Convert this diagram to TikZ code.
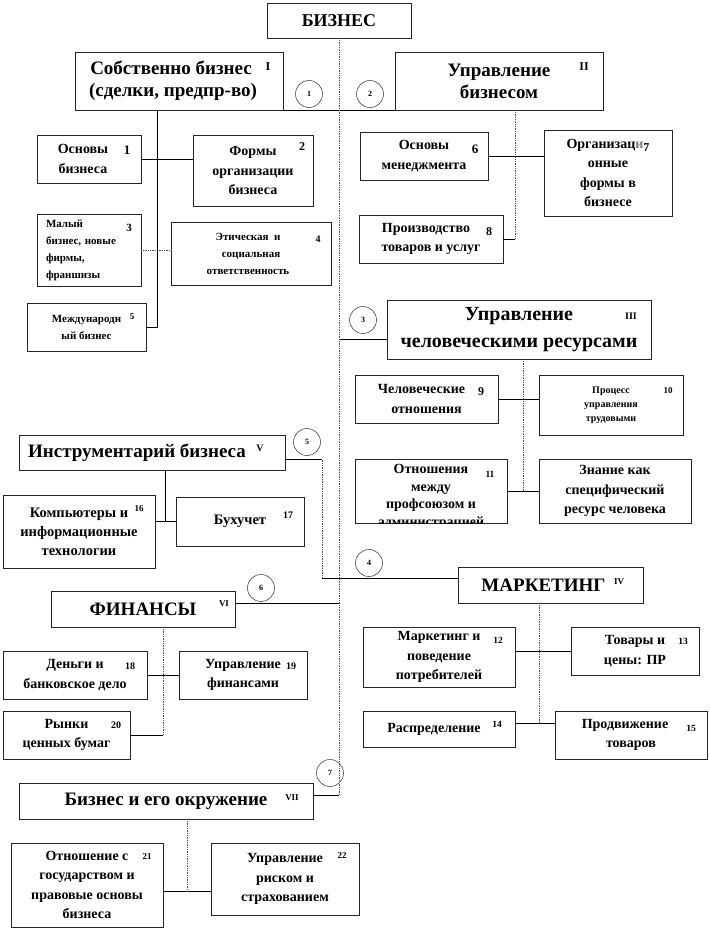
\documentclass[tikz,border=0pt]{standalone}
\usepackage{fontspec}
\setmainfont{Liberation Serif}
\usetikzlibrary{calc}

\begin{document}
\begin{tikzpicture}[x=1pt, y=-1pt,
  box/.style={draw=black!85, line width=0.75pt, rectangle, inner sep=2pt, outer sep=0pt, align=center},
  big/.style={box, font=\fontsize{19}{22}\selectfont\bfseries},
  mid/.style={box, font=\fontsize{14}{19.5}\selectfont\bfseries},
  sml/.style={box, font=\fontsize{11}{17}\selectfont\bfseries},
  num/.style={inner sep=0pt, font=\bfseries},
  circ/.style={draw=black!70, line width=0.6pt, circle, minimum size=27, inner sep=0pt, font=\fontsize{8}{8}\selectfont\bfseries},
  sline/.style={black, line width=0.75pt},
  dline/.style={black!70, line width=0.75pt, densely dotted}]
  \useasboundingbox (0,0) rectangle (710,930);

  % root and spine
  \node[big, font=\fontsize{18}{20}\selectfont\bfseries, minimum width=144, minimum height=35] (biz) at (339,20.5) {БИЗНЕС};

  % I and II
  \node[big, minimum width=208, minimum height=58] (sob) at (179,81) {Собственно бизнес\hspace*{16pt}\\(сделки, предпр-во)\hspace*{12pt}};
  \node[big, minimum width=208, minimum height=58] (upr) at (499,81) {Управление\\бизнесом};
  \draw[sline] (sob.south east) -- (upr.south west);
  \node[circ] (c1) at (309,94) {1};
  \node[circ] (c2) at (370,94) {2};

  % children of I
  \node[mid, minimum width=104, minimum height=48] (osnb) at (89,159) {Основы\hspace*{12pt}\\бизнеса\hspace*{12pt}};
  \node[mid, minimum width=120, minimum height=71] (formy) at (253,170.5) {Формы\\организации\\бизнеса};
  \node[sml, minimum width=104, minimum height=72, text width=86, align=left] (maly) at (89,250) {Малый\\бизнес, новые\\фирмы,\\франшизы};
  \node[sml, minimum width=160, minimum height=63] (etich) at (251,253.5) {Этическая \ и\hspace*{6pt}\\социальная\hspace*{6pt}\\ответственность\hspace*{6pt}};
  \node[sml, minimum width=119, minimum height=48] (mezhd) at (86.5,327) {Международн\\ый бизнес};
  \draw[sline] (osnb.east) -- (osnb.east -| formy.west);
  \draw[dline] (maly.east) -- (maly.east -| etich.west);
  \coordinate (jI) at ($(sob.south)+(-22,0)$);
  \draw[sline] (jI) |- (mezhd.east);

  % children of II
  \node[mid, minimum width=128, minimum height=48] (osnm) at (424,156) {Основы\\менеджмента};
  \node[mid, minimum width=128, minimum height=86] (orgf) at (608,173) {Организац{\color{gray}и}\raisebox{-3pt}{\fontsize{12}{12}\selectfont 7}\\онные\\формы в\\бизнесе};
  \node[mid, minimum width=144, minimum height=48] (proizv) at (431,239) {Производство\hspace*{10pt}\\товаров и услуг};
  \draw[sline] (osnm.east) -- (osnm.east -| orgf.west);
  \coordinate (jII) at ($(upr.south)+(16,0)$);
  \draw[dline] (jII) -- (jII |- proizv.east);
  \draw[sline] (jII |- proizv.east) -- (proizv.east);

  % III
  \node[big, font=\fontsize{20}{27}\selectfont\bfseries, minimum width=264, minimum height=59] (hr) at (519,329.5) {Управление\\человеческими ресурсами};
  \coordinate (jIII) at ($(hr.west)+(0,10)$);
  \draw[sline] (jIII -| biz.south) -- (jIII);
  \node[circ] (c3) at (363,320) {3};
  \node[mid, minimum width=143, minimum height=48] (chel) at (426.5,399) {Человеческие\hspace*{10pt}\\отношения};
  \node[box, font=\fontsize{10}{14}\selectfont\bfseries, minimum width=144, minimum height=60] (proc) at (611,405) {Процесс\\управления\\трудовыми};
  \draw[sline] (chel.east) -- (chel.east -| proc.west);
  \node[box, minimum width=152, minimum height=64] (otnos) at (431,491) {};
  \begin{scope}
    \clip (otnos.south west) rectangle (otnos.north east);
    \node[mid, draw=none, font=\fontsize{14}{17.5}\selectfont\bfseries] (otnostx) at (431,497) {Отношения\\между\\профсоюзом и\\администрацией};
  \end{scope}
  \node[mid, minimum width=152, minimum height=64] (znan) at (615,491) {Знание как\\специфический\\ресурс человека};
  \coordinate (jIIIb) at ($(hr.south)+(4,0)$);
  \draw[dline] (jIIIb) -- (jIIIb |- otnos.east);
  \draw[sline] (otnos.east) -- (otnos.east -| znan.west);

  % IV
  \node[big, minimum width=185, minimum height=36] (mkt) at (550.5,585) {МАРКЕТИНГ\hspace*{14pt}};
  \node[circ] (c4) at (369,563) {4};
  \node[mid, minimum width=152, minimum height=60] (potr) at (439,657) {Маркетинг и\\поведение\\потребителей};
  \node[mid, minimum width=128, minimum height=48] (tovar) at (635,651) {Товары и\\цены: ПР};
  \node[mid, minimum width=152, minimum height=36] (raspr) at (439,729) {Распределение\hspace*{10pt}};
  \node[mid, minimum width=152, minimum height=48] (prodv) at (631,735) {Продвижение\hspace*{12pt}\\товаров};
  \coordinate (jIVb) at ($(mkt.south)+(-11.5,0)$);
  \coordinate (jr) at ($(raspr.east)+(0,-6)$);
  \draw[dline] (jIVb) -- (jIVb |- jr);
  \draw[sline] (potr.east |- tovar.west) -- (tovar.west);
  \draw[sline] (jr) -- (jr -| prodv.west);

  % V
  \node[big, minimum width=266, minimum height=35] (instr) at (152,452.5) {Инструментарий бизнеса\hspace*{30pt}};
  \node[circ] (c5) at (307,442) {5};
  \coordinate (jV) at ($(instr.east)+(0,7)$);
  \coordinate (jIV) at ($(mkt.west)+(0,-7)$);
  \draw[sline] (jV) -- ++(37,0) coordinate (kV);
  \draw[dline] (kV) -- (kV |- jIV);
  \draw[sline] (kV |- jIV) -- (jIV);
  \node[box, font=\fontsize{14.5}{19}\selectfont\bfseries, minimum width=152, minimum height=73] (komp) at (79,531.5) {Компьютеры и\\информационные\\технологии};
  \node[box, font=\fontsize{14.5}{19}\selectfont\bfseries, minimum width=128, minimum height=49] (buh) at (240,521.5) {Бухучет};
  \coordinate (jVb) at ($(instr.south)+(13,0)$);
  \draw[sline] (jVb) -- (jVb |- buh.west);
  \draw[sline] (buh.west -| komp.east) -- (buh.west);

  % VI
  \node[big, minimum width=184, minimum height=36] (fin) at (143,609) {ФИНАНСЫ};
  \node[circ] (c6) at (261,588) {6};
  \coordinate (jVI) at ($(fin.east)+(0,-6)$);
  \draw[sline] (jVI) -- (jVI -| biz.south);
  \node[mid, minimum width=144, minimum height=48] (deng) at (75,675) {Деньги и\\банковское дело};
  \node[mid, minimum width=128, minimum height=48] (uprf) at (243,675) {Управление\\финансами};
  \node[mid, minimum width=127, minimum height=48] (rynk) at (66.5,735) {Рынки\\ценных бумаг};
  \draw[sline] (deng.east) -- (deng.east -| uprf.west);
  \coordinate (jVIb) at ($(fin.south)+(20,0)$);
  \draw[dline] (jVIb) -- (jVIb |- rynk.east);
  \draw[sline] (jVIb |- rynk.east) -- (rynk.east);

  % VII
  \node[big, minimum width=294, minimum height=36] (okr) at (166,801) {Бизнес и его окружение};
  \node[circ] (c7) at (330,773) {7};
  \coordinate (spend) at ($(okr.east)+(0,-6)$);
  \draw[dline] (biz.south) -- (biz.south |- spend);
  \draw[sline] (biz.south |- spend) -- (spend);
  \node[mid, minimum width=152, minimum height=84] (gos) at (87,885) {Отношение с\\государством и\\правовые основы\\бизнеса};
  \node[mid, minimum width=148, minimum height=72] (risk) at (285,879) {Управление\\риском и\\страхованием};
  \coordinate (jg) at ($(gos.east)+(0,6)$);
  \draw[sline] (jg) -- (jg -| risk.west);
  \coordinate (jVIIb) at ($(okr.south)+(21,0)$);
  \draw[dline] (jVIIb) -- (jVIIb |- jg);

  % numbers
  \foreach \b/\dx/\dy/\s/\t in {sob/-15/15/12/I, upr/-19/15/12/II, osnb/-14/15/13/1, formy/-11/12/12/2,
      maly/-12/14/11/3, etich/-13/17/10/4, mezhd/-14/14/9/5, osnm/-13/17/13/6, proizv/-14/17/12/8,
      hr/-20/16/10/III, chel/-17/17/12/9, proc/-15/16/9/10, otnos/-17/15/9.5/11, instr/-25/13/10/V,
      komp/-16/14/9/16, buh/-16/18/10/17, mkt/-24/15/9/IV, potr/-17/13/9.5/12, tovar/-16/14/9.5/13,
      raspr/-18/13/9.5/14, prodv/-16/17/9.5/15, fin/-11/13/9/VI, deng/-17/15/10/18, uprf/-16/15/10/19,
      rynk/-14/14/10/20, okr/-21/15/9/VII, gos/-16/14/9/21, risk/-17/13/9/22}
    \node[num, font=\fontsize{\s}{\s}\selectfont\bfseries] (n-\b) at ($(\b.north east)+(\dx,\dy)$) {\t};
\end{tikzpicture}
\end{document}
